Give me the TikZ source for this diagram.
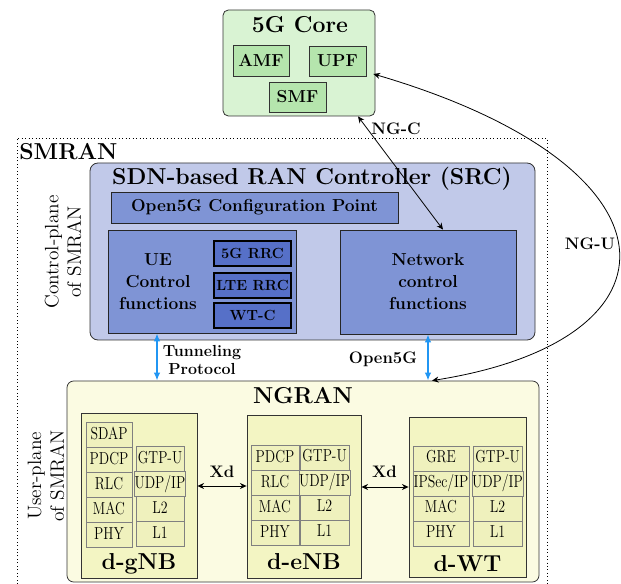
\documentclass[tikz,border=0pt]{standalone}
\usepackage{graphicx}
\usetikzlibrary{arrows.meta,positioning}

\newlength\pxl
\setlength\pxl{0.75pt}
\newcommand\narrow[1]{\scalebox{0.8}[1]{#1}}

\definecolor{coregreen}{HTML}{D9F3D3}
\definecolor{nfgreen}{HTML}{B5E5AD}
\definecolor{srcblue}{HTML}{C1C9E9}
\definecolor{fnblue}{HTML}{7F94D5}
\definecolor{rrcblue}{HTML}{5670C8}
\definecolor{ranyellow}{HTML}{FBFBE2}
\definecolor{stackyellow}{HTML}{F3F5C3}
\definecolor{cellyellow}{HTML}{EFF1BD}
\definecolor{tunnelblue}{HTML}{2196F3}

\begin{document}
\begin{tikzpicture}[x=\pxl, y=-\pxl,
    core/.style={rectangle, draw=black!80, semithick, fill=coregreen, rounded corners=4pt},
    nf/.style={rectangle, draw=black!80, semithick, fill=nfgreen, minimum width=57\pxl, minimum height=30\pxl, inner sep=0pt, font=\fontsize{13}{15}\selectfont\bfseries},
    ctrl/.style={rectangle, draw=black!80, semithick, fill=srcblue, rounded corners=6pt},
    fnbox/.style={rectangle, draw=black!85, semithick, fill=fnblue, inner sep=0pt},
    rrc/.style={rectangle, draw=black, line width=1.1pt, fill=rrcblue, minimum width=77\pxl, minimum height=25\pxl, inner sep=0pt, font=\fontsize{11}{13}\selectfont\bfseries},
    ran/.style={rectangle, draw=black!80, semithick, fill=ranyellow, rounded corners=5pt},
    stack/.style={rectangle, draw=black!80, semithick, fill=stackyellow},
    cell/.style={rectangle, draw=black!50, fill=cellyellow, minimum height=25\pxl, inner sep=0pt, outer sep=0pt, text height=9pt, text depth=2.5pt, font=\fontsize{13}{15}\selectfont},
    title/.style={font=\LARGE\bfseries, inner sep=0pt},
    lbl/.style={font=\fontsize{12.5}{13.5}\selectfont\bfseries, inner sep=0pt, align=center},
    side/.style={font=\fontsize{14.5}{17}\selectfont, align=center, rotate=90, inner sep=0pt},
    conn/.style={draw, semithick, {Stealth[length=5pt, width=4.5pt]}-{Stealth[length=5pt, width=4.5pt]}},
    tunnel/.style={draw=tunnelblue, line width=1.6pt, {Latex[length=6pt, width=5pt]}-{Latex[length=6pt, width=5pt]}}
  ]
  \useasboundingbox (0,0) rectangle (621,584);

  % 5G core
  \node[core, minimum width=152\pxl, minimum height=106\pxl] (core) at (299,63) {};
  \node[title, anchor=base] (coretitle) at (300,33) {5G Core};
  \node[nf, minimum width=56\pxl, minimum height=31\pxl] (amf) at (261,60.5) {AMF};
  \node[nf] (upf) at (337.5,61) {UPF};
  \node[nf] (smf) at (297.5,97) {SMF};

  % SMRAN frame
  \draw[dotted, semithick] (17,584) -- (17,138) -- (547,138) -- (547,584);
  \node[title, anchor=base west] (smran) at (19,160) {SMRAN};

  % control plane
  \node[ctrl, minimum width=445\pxl, minimum height=177\pxl] (src) at (312.5,251.5) {};
  \node[title, anchor=base] (srctitle) at (312,185) {SDN-based RAN Controller (SRC)};
  \node[fnbox, minimum width=287\pxl, minimum height=31\pxl, font=\fontsize{13}{15}\selectfont\bfseries] (cfg) at (254.5,207.5) {Open5G Configuration Point};
  \node[fnbox, minimum width=188\pxl, minimum height=103\pxl] (ue) at (202,281.5) {};
  \node[lbl, font=\fontsize{13}{16.5}\selectfont\bfseries] (uetext) at (158,282) {UE\\Control\\functions};
  \node[rrc] (rrc5g) at (252.5,253.5) {5G RRC};
  \node[rrc] (rrclte) at (252.5,285.5) {LTE RRC};
  \node[rrc] (wtc) at (252.5,315.5) {WT-C};
  \node[fnbox, minimum width=176\pxl, minimum height=104\pxl, align=center, font=\fontsize{13}{16.5}\selectfont\bfseries] (net) at (428,282) {Network\\control\\functions};
  \node[side] (cplane) at (63,252) {Control-plane\\of SMRAN};

  % user plane
  \node[ran, minimum width=472\pxl, minimum height=201\pxl] (ngran) at (303,481.5) {};
  \node[title, anchor=base] (ngrantitle) at (303,403) {NGRAN};
  \node[side] (uplane) at (46,476) {User-plane\\of SMRAN};

  % d-gNB
  \node[stack, minimum width=116\pxl, minimum height=165\pxl] (gnb) at (139,495.5) {};
  \node[cell, minimum width=46\pxl] (gsdap) at (109,435) {\narrow{SDAP}};
  \node[cell, minimum width=46\pxl, below=0pt of gsdap] (gpdcp) {\narrow{PDCP}};
  \node[cell, minimum width=46\pxl, below=0pt of gpdcp] (grlc) {\narrow{RLC}};
  \node[cell, minimum width=46\pxl, below=0pt of grlc] (gmac) {\narrow{MAC}};
  \node[cell, minimum width=46\pxl, below=0pt of gmac] (gphy) {\narrow{PHY}};
  \node[cell, minimum width=48\pxl] (ggtp) at (160,459) {\narrow{GTP-U}};
  \node[cell, minimum width=48\pxl, below=0pt of ggtp] (gudp) {\narrow{UDP/IP}};
  \node[cell, minimum width=48\pxl, below=0pt of gudp] (gl2) {\narrow{L2}};
  \node[cell, minimum width=48\pxl, below=0pt of gl2] (gl1) {\narrow{L1}};
  \node[title, anchor=base] (gnblabel) at (139,569) {d-gNB};

  % d-eNB
  \node[stack, minimum width=114\pxl, minimum height=163\pxl] (enb) at (304,496.5) {};
  \node[cell, minimum width=48\pxl] (epdcp) at (275,458) {\narrow{PDCP}};
  \node[cell, minimum width=48\pxl, below=0pt of epdcp] (erlc) {\narrow{RLC}};
  \node[cell, minimum width=48\pxl, below=0pt of erlc] (emac) {\narrow{MAC}};
  \node[cell, minimum width=48\pxl, below=0pt of emac] (ephy) {\narrow{PHY}};
  \node[cell, minimum width=49\pxl] (egtp) at (324.5,457.5) {\narrow{GTP-U}};
  \node[cell, minimum width=49\pxl, below=0pt of egtp] (eudp) {\narrow{UDP/IP}};
  \node[cell, minimum width=49\pxl, below=0pt of eudp] (el2) {\narrow{L2}};
  \node[cell, minimum width=49\pxl, below=0pt of el2] (el1) {\narrow{L1}};
  \node[title, anchor=base] (enblabel) at (304,569) {d-eNB};

  % d-WT
  \node[stack, minimum width=117\pxl, minimum height=160\pxl] (wt) at (467.5,497) {};
  \node[cell, minimum width=56\pxl] (wgre) at (441,458.5) {\narrow{GRE}};
  \node[cell, minimum width=56\pxl, below=0pt of wgre] (wipsec) {\narrow{IPSec/IP}};
  \node[cell, minimum width=56\pxl, below=0pt of wipsec] (wmac) {\narrow{MAC}};
  \node[cell, minimum width=56\pxl, below=0pt of wmac] (wphy) {\narrow{PHY}};
  \node[cell, minimum width=49\pxl] (wgtp) at (497.5,458.5) {\narrow{GTP-U}};
  \node[cell, minimum width=49\pxl, below=0pt of wgtp] (wudp) {\narrow{UDP/IP}};
  \node[cell, minimum width=49\pxl, below=0pt of wudp] (wl2) {\narrow{L2}};
  \node[cell, minimum width=49\pxl, below=0pt of wl2] (wl1) {\narrow{L1}};
  \node[title, anchor=base] (wtlabel) at (467.5,571) {d-WT};

  % interfaces
  \draw[conn] ([xshift=59\pxl]core.south) -- ([xshift=15\pxl]net.north);
  \node[lbl, anchor=base] (ngc) at (396,135) {NG-C};
  \draw[conn] ([xshift=129\pxl]ngran.north) .. controls (690,340) and (690,167) .. ([shift={(-2,11)}]core.east);
  \node[lbl, anchor=base] (ngu) at (590,250) {NG-U};
  \draw[tunnel] ([xshift=-45\pxl]ue.south) -- ([xshift=-146\pxl]ngran.north);
  \node[lbl, font=\fontsize{12}{13.5}\selectfont\bfseries] (tunlabel) at (202,360) {Tunneling\\Protocol};
  \draw[tunnel] (net.south) -- ([xshift=125\pxl]ngran.north);
  \node[lbl, anchor=base] (o5g) at (383,364) {Open5G};
  \draw[conn] ([yshift=9.5\pxl]gnb.east) -- ([yshift=10.5\pxl]enb.west);
  \node[lbl, anchor=base] (xd1) at (222,477) {Xd};
  \draw[conn] ([yshift=9.5\pxl]enb.east) -- ([yshift=10\pxl]wt.west);
  \node[lbl, anchor=base] (xd2) at (384.5,477) {Xd};
\end{tikzpicture}
\end{document}
